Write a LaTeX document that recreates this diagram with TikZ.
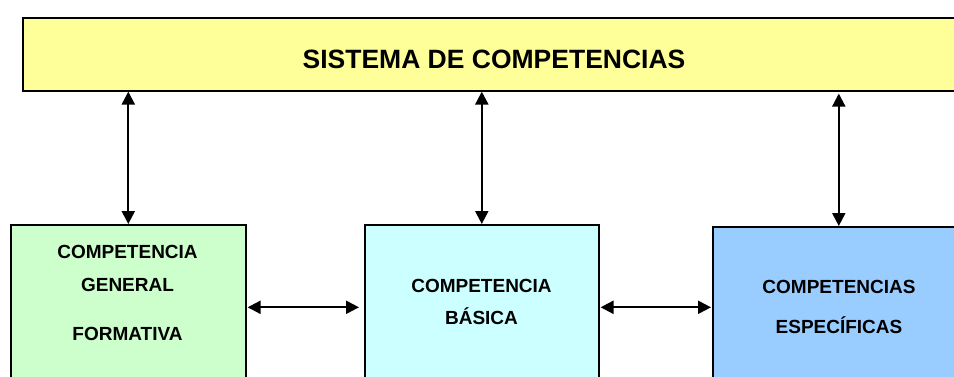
\documentclass[tikz,border=0pt]{standalone}
\usepackage{fontspec}
\setmainfont{Liberation Sans}
\usetikzlibrary{arrows.meta}

\definecolor{sisyellow}{HTML}{FFFF99}
\definecolor{gengreen}{HTML}{CCFFCC}
\definecolor{bascyan}{HTML}{CCFFFF}
\definecolor{espblue}{HTML}{99CCFF}

\begin{document}
\begin{tikzpicture}[x=1pt, y=-1pt,
    box/.style={draw, line width=1.6pt, inner sep=0pt, anchor=north west},
    txt/.style={align=center, inner sep=0pt, font=\fontsize{19}{#1}\selectfont\bfseries},
    link/.style={{Triangle[length=13pt,width=13pt]}-{Triangle[length=13pt,width=13pt]}, line width=2.2pt}]
    \useasboundingbox (0,0) rectangle (954,376);
    \clip (0,0) rectangle (954,376);

    \node[box, fill=sisyellow, minimum width=960pt, minimum height=73pt] (sis) at (22,17) {};
    \node[font=\fontsize{26.5}{30}\selectfont\bfseries] (sistxt) at (494,59) {SISTEMA DE COMPETENCIAS};

    \node[box, fill=gengreen, minimum width=235pt, minimum height=165pt] (gen) at (10,224) {};
    \node[txt=33] (gentxt) at (127.5,293) {COMPETENCIA\\GENERAL\\[16pt]FORMATIVA};

    \node[box, fill=bascyan, minimum width=234pt, minimum height=165pt] (bas) at (364,224) {};
    \node[txt=32] (bastxt) at (481.5,302) {COMPETENCIA\\BÁSICA};

    \node[box, fill=espblue, minimum width=252pt, minimum height=161pt] (esp) at (712,226) {};
    \node[txt=40] (esptxt) at (839,307) {COMPETENCIAS\\ESPECÍFICAS};

    \draw[link] (sis.south -| gen.north) -- (gen.north);
    \draw[link] (sis.south -| bas.north) -- (bas.north);
    \draw[link, shorten <=2pt] (sis.south -| esp.north) -- (esp.north);

    \draw[link, shorten <=1pt, shorten >=5pt] (gen.east) -- (bas.west);
    \draw[link, shorten <=1pt, shorten >=1pt] (bas.east) -- (esp.west);
\end{tikzpicture}
\end{document}
